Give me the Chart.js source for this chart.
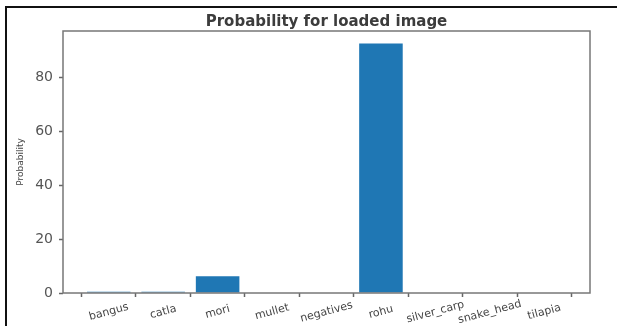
<!DOCTYPE html>
<html>
<head>
<meta charset="utf-8">
<script src="https://cdn.jsdelivr.net/npm/chart.js@4.4.1/dist/chart.umd.min.js"></script>
<style>
  html, body { margin: 0; padding: 0; background: #fff; }
  #wrap { position: relative; width: 617px; height: 326px; overflow: hidden; }
  #frame {
    position: absolute; left: 5px; top: 6px; width: 700px; height: 400px;
    border-left: 2px solid #111; border-top: 2px solid #111;
    pointer-events: none;
  }
  canvas { position: absolute; left: 0; top: 0; }
</style>
</head>
<body>
<div id="wrap">
  <canvas id="probChart" width="617" height="326"></canvas>
  <div id="frame"></div>
</div>
<script>
// 类别与概率值
const categories = ['bangus', 'catla', 'mori', 'mullet', 'negatives', 'rohu', 'silver_carp', 'snake_head', 'tilapia'];
const probabilities = [0.5, 0.5, 6.2, 0, 0, 92.6, 0, 0, 0];
const yTicks = [0, 20, 40, 60, 80];
const chartTitle = 'Probability for loaded image';

const FONT = 'DejaVu Sans';

// 画坐标框、标题和倾斜的 x 轴标签
const framePlugin = {
    id: 'frame',
    afterDatasetsDraw(chart) {
        const { ctx, chartArea } = chart;
        ctx.save();
        ctx.strokeStyle = '#777';
        ctx.lineWidth = 1.5;
        ctx.strokeRect(chartArea.left, chartArea.top,
            chartArea.right - chartArea.left, chartArea.bottom - chartArea.top);
        ctx.restore();
    },
    afterDraw(chart) {
        const { ctx, chartArea } = chart;
        const xScale = chart.scales.x;
        ctx.save();
        // 标题居中于绘图区
        ctx.font = 'bold 15px "' + FONT + '"';
        ctx.fillStyle = '#3c3c3c';
        ctx.textAlign = 'center';
        ctx.textBaseline = 'middle';
        ctx.fillText(chartTitle, (chartArea.left + chartArea.right) / 2, 22);

        ctx.font = '11px "' + FONT + '"';
        ctx.fillStyle = '#444';
        categories.forEach((name, i) => {
            ctx.save();
            ctx.translate(xScale.getPixelForValue(i), chartArea.bottom + 19);
            ctx.rotate(-15 * Math.PI / 180);
            ctx.fillText(name, 0, 0);
            ctx.restore();
        });
        ctx.restore();
    }
};

const ctx = document.getElementById('probChart').getContext('2d');
new Chart(ctx, {
    type: 'bar',
    data: {
        datasets: [{
            label: 'Probability',
            data: probabilities.map((v, i) => ({ x: i, y: v })),
            backgroundColor: '#1f77b4',
            borderWidth: 0,
            barPercentage: 0.8,
            categoryPercentage: 1.0
        }]
    },
    options: {
        responsive: false,
        animation: false,
        layout: { padding: { left: 0, right: 27, top: 31, bottom: 0 } },
        plugins: {
            legend: { display: false },
            tooltip: { enabled: false },
            title: { display: false }
        },
        scales: {
            x: {
                type: 'linear',
                min: -0.84,
                max: categories.length - 1 + 0.84,
                offset: false,
                border: { display: false },
                grid: { drawOnChartArea: false, tickLength: 4, color: '#666', tickWidth: 1.5 },
                ticks: { display: false, stepSize: 1, includeBounds: false, autoSkip: false },
                afterFit(scale) { scale.height = 33; }
            },
            y: {
                min: 0,
                max: 97.2,
                border: { display: false },
                grid: { drawOnChartArea: false, tickLength: 4, color: '#666', tickWidth: 1.5 },
                afterBuildTicks(scale) { scale.ticks = yTicks.map(v => ({ value: v })); },
                ticks: {
                    includeBounds: false,
                    padding: 6,
                    color: '#555',
                    font: { family: FONT, size: 14 }
                },
                title: {
                    display: true,
                    text: 'Probability',
                    color: '#444',
                    font: { family: FONT, size: 9 },
                    padding: { top: 15, bottom: 0 }
                },
                afterFit(scale) { scale.width = 63; }
            }
        }
    },
    plugins: [framePlugin]
});
</script>
</body>
</html>
